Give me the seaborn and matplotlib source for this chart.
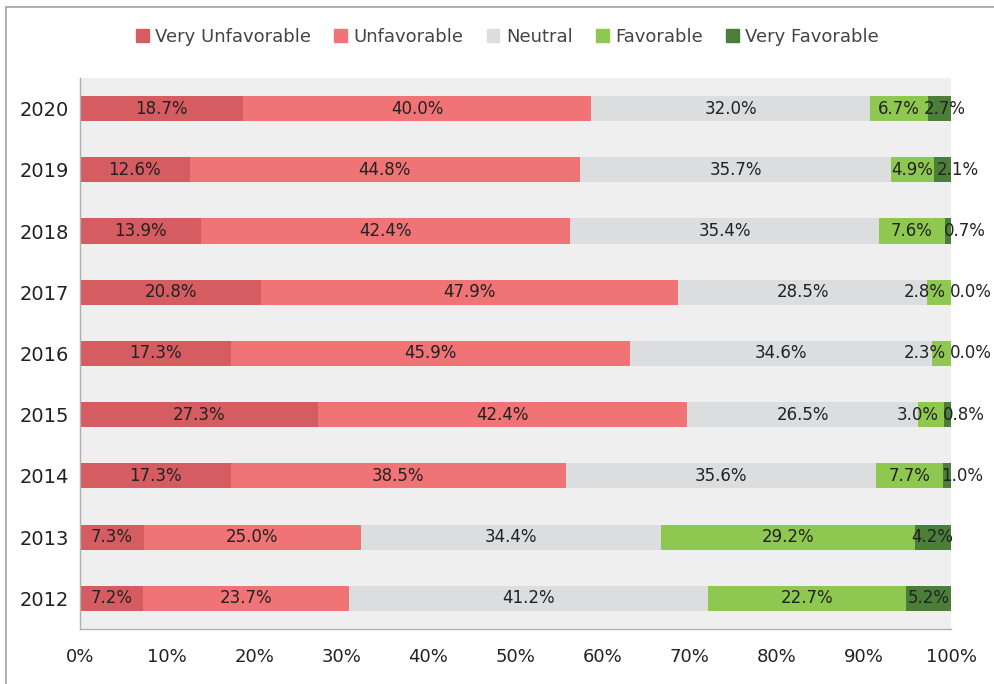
import matplotlib
matplotlib.use("Agg")
import matplotlib.pyplot as plt
import matplotlib.patches as mpatches
import numpy as np
import pandas as pd
import seaborn as sns

# data (percent)
years = ["2020", "2019", "2018", "2017", "2016", "2015", "2014", "2013", "2012"]
very_unfavorable = [18.7, 12.6, 13.9, 20.8, 17.3, 27.3, 17.3, 7.3, 7.2]
unfavorable = [40.0, 44.8, 42.4, 47.9, 45.9, 42.4, 38.5, 25.0, 23.7]
neutral = [32.0, 35.7, 35.4, 28.5, 34.6, 26.5, 35.6, 34.4, 41.2]
favorable = [6.7, 4.9, 7.6, 2.8, 2.3, 3.0, 7.7, 29.2, 22.7]
very_favorable = [2.7, 2.1, 0.7, 0.0, 0.0, 0.8, 1.0, 4.2, 5.2]

series_names = ["Very Unfavorable", "Unfavorable", "Neutral", "Favorable", "Very Favorable"]
colors = ["#d55d62", "#f07476", "#dcdddf", "#8fc851", "#4b7f39"]

df = pd.DataFrame({
    "Year": years,
    "Very Unfavorable": very_unfavorable,
    "Unfavorable": unfavorable,
    "Neutral": neutral,
    "Favorable": favorable,
    "Very Favorable": very_favorable,
})

# cumulative totals for stacking
cum = df[series_names].cumsum(axis=1)

sns.set_style("white")
plt.rcParams["font.family"] = ["DejaVu Sans"]

fig = plt.figure(figsize=(9.95, 6.84), dpi=100)
ax = fig.add_axes([0.0804, 0.0804, 0.8754, 0.8056])
ax.set_facecolor("#efefef")

# draw widest cumulative bar first, then the narrower ones on top
for name, color in reversed(list(zip(series_names, colors))):
    plot_df = pd.DataFrame({"Year": years, "val": cum[name].clip(upper=100)})
    sns.barplot(data=plot_df, x="val", y="Year", order=years, color=color,
                width=0.41, saturation=1, ax=ax, orient="h", edgecolor="none")

ax.set_xlim(0, 100)
ax.set_ylim(len(years) - 0.5, -0.5)

# value labels
labels = []
for i, year in enumerate(years):
    row = []
    for name in series_names:
        v = df.loc[i, name]
        end = min(cum.loc[i, name], 100)
        start = end - v
        if name == "Very Favorable" and v < 1.5:
            t = ax.text(start - 0.1, i, f"{v:.1f}%", ha="left", va="center",
                        fontsize=12, color="#222222", clip_on=False)
        else:
            t = ax.text(start + v / 2, i, f"{v:.1f}%", ha="center", va="center",
                        fontsize=12, color="#222222", clip_on=False)
        row.append(t)
    labels.append(row)

# nudge the two rightmost labels so they do not overlap
fig.canvas.draw()
renderer = fig.canvas.get_renderer()
inv = ax.transData.inverted()
gap = 4
for i, row in enumerate(labels):
    fav, vfav = row[3], row[4]
    fb = fav.get_window_extent(renderer)
    vb = vfav.get_window_extent(renderer)
    if fb.x1 + gap > vb.x0:
        shift = fb.x1 + gap - vb.x0
        if very_favorable[i] < 1.5:
            px = fav.get_transform().transform(fav.get_position())[0] - shift
            fav.set_x(inv.transform((px, 0))[0])
        else:
            px = vfav.get_transform().transform(vfav.get_position())[0] + shift
            vfav.set_x(inv.transform((px, 0))[0])

ax.set_xticks(np.arange(0, 101, 10))
ax.set_xticklabels([f"{t}%" for t in range(0, 101, 10)])
ax.set_xlabel("")
ax.set_ylabel("")

ax.set_yticks(np.arange(len(years)))
ax.set_yticklabels(years)
ax.set_yticks(np.arange(-0.5, len(years), 1), minor=True)
ax.tick_params(axis="y", which="major", length=0, pad=8, labelsize=14, labelcolor="#222222")
ax.tick_params(axis="y", which="minor", length=6, color="#b0b0b0", width=1)
ax.tick_params(axis="x", which="major", length=6, color="#b0b0b0", width=1,
               pad=8, labelsize=13, labelcolor="#222222")

for side in ["top", "right"]:
    ax.spines[side].set_visible(False)
for side in ["left", "bottom"]:
    ax.spines[side].set_color("#b0b0b0")
    ax.spines[side].set_linewidth(1)

handles = [mpatches.Patch(color=c, label=n) for n, c in zip(series_names, colors)]
fig.legend(handles=handles, loc="center", bbox_to_anchor=(0.51, 0.946), ncol=5,
           frameon=False, fontsize=13, handlelength=0.7, handleheight=0.7,
           handletextpad=0.35, columnspacing=1.3, labelcolor="#444444")

# thin outer frame like the original (top and left edges visible)
fig.add_artist(mpatches.Rectangle((0.006, -0.01), 1.0, 0.9998, transform=fig.transFigure,
                                  fill=False, edgecolor="#a0a0a0", linewidth=1.2))

fig.savefig("out.png", dpi=100)
